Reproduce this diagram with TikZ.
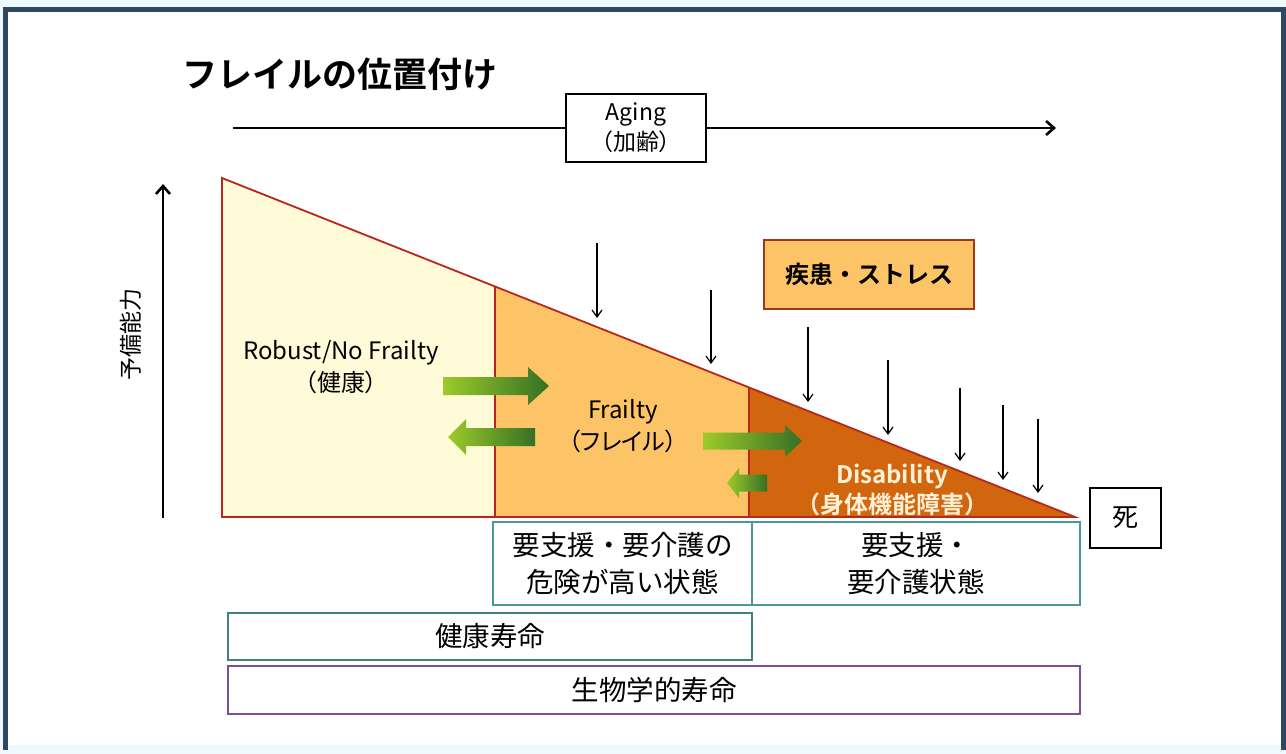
\documentclass[tikz,border=0pt]{standalone}
\usepackage{fontspec}
\setmainfont{Noto Sans CJK JP}[BoldFont={Noto Sans CJK JP Bold}]
\newfontfamily\propfont{Noto Sans CJK JP}[RawFeature=+palt, BoldFont={Noto Sans CJK JP Bold}]
\usetikzlibrary{arrows.meta}
\definecolor{bgcyan}{HTML}{EEF9FC}
\definecolor{framecol}{HTML}{2E4763}
\definecolor{robustfill}{HTML}{FFFBD8}
\definecolor{frailfill}{HTML}{FDC467}
\definecolor{disabfill}{HTML}{D2660F}
\definecolor{redline}{HTML}{B8261C}
\definecolor{brownline}{HTML}{9B3A1A}
\definecolor{tealline}{HTML}{4A9797}
\definecolor{purpline}{HTML}{7E4E94}
\definecolor{glight}{HTML}{9CCB2A}
\definecolor{gdark}{HTML}{356F25}
\definecolor{creamtext}{HTML}{FFF1D6}
\newcommand{\fsz}[2]{\fontsize{#1}{#2}\selectfont}
\newcommand{\greenarrow}[6]{%
  \shade[left color=glight, right color=gdark]
    (#1,{#4-#5}) -- (#2,{#4-#5}) -- (#2,{#4-#6}) -- (#3,#4) -- (#2,{#4+#6}) -- (#2,{#4+#5}) -- (#1,{#4+#5}) -- cycle;}
\tikzset{
  plainbox/.style={draw, line width=2pt, inner sep=0pt, outer sep=0pt, align=center},
  thinarrow/.style={line width=1.2pt, -{Straight Barb[length=7pt, width=10pt]}},
  thickline/.style={line width=2.6pt},
  rededge/.style={draw=redline, line width=1.8pt, line join=miter},
}
\begin{document}
\begin{tikzpicture}[x=1pt,y=-1pt]
\useasboundingbox (0,0) rectangle (1286,754);
\fill[bgcyan] (0,0) rectangle (1286,754);
\fill[white] (5,10) rectangle (1283,745);
\draw[framecol, line width=5pt] (5,750) -- (5,10) -- (1283,10) -- (1283,750);

% title
\node[anchor=west, font=\bfseries\fsz{35}{40}, inner sep=0pt] (title) at (182,74) {フレイルの位置付け};

% aging
\node[plainbox, minimum width=140pt, minimum height=68pt, font=\propfont\fsz{23}{30}] (aging) at (636,128) {Aging\\（加齢）};
\coordinate (agL) at (233,128);
\coordinate (agR) at (1056,128);
\draw[thickline] (agL) -- (aging.west);
\draw[thickline, -{Straight Barb[length=8pt, width=14pt]}] (aging.east) -- (agR);

% vertical axis
\coordinate (vB) at (163,518);
\coordinate (vT) at (163,184);
\draw[thickline, -{Straight Barb[length=8pt, width=14pt]}] (vB) -- (vT);
\node[rotate=90, font=\fsz{23}{26}] (yax) at (131,334) {予備能力};

% triangle
\coordinate (tA) at (222,178);
\coordinate (tB) at (495,286.5);
\coordinate (tC) at (749,387.4);
\coordinate (tD) at (1075,517);
\coordinate (bA) at (222,517);
\coordinate (bB) at (495,517);
\coordinate (bC) at (749,517);
\fill[robustfill] (tA) -- (tB) -- (bB) -- (bA) -- cycle;
\fill[frailfill] (tB) -- (tC) -- (bC) -- (bB) -- cycle;
\fill[disabfill] (tC) -- (tD) -- (bC) -- cycle;
\draw[rededge] (tA) -- (tD) -- (bA) -- cycle;
\draw[rededge] (tB) -- (bB);
\draw[rededge] (tC) -- (bC);

% region labels
\node[align=center, font=\propfont\fsz{24}{32}] (robust) at (341,367) {Robust/No Frailty\\（健康）};
\node[align=center, font=\propfont\fsz{24}{32}] (frailty) at (623,426) {Frailty\\（フレイル）};
\node[align=center, font=\bfseries\fsz{24}{30}, text=creamtext] (disab) at (892,490) {Disability\\（身体機能障害）};

% green arrows
\greenarrow{443}{528}{549}{386}{9}{19}
\greenarrow{535}{466}{448}{437}{9}{18}
\greenarrow{703}{785}{802}{441}{8.5}{16}
\greenarrow{767}{739}{727}{483}{8.5}{15}

% stress box and arrows
\node[plainbox, draw=brownline, fill=frailfill, minimum width=210pt, minimum height=69pt, font=\bfseries\fsz{24}{28}] (stress) at (869,274.5) {疾患・ストレス};
\foreach \i/\x/\ya/\yb in {1/597/243/318, 2/711/290/364, 3/808/327/402, 4/888/360/435, 5/960/388/461, 6/1003/405/480, 7/1038/419/493}{
  \coordinate (s\i) at (\x,\ya);
  \coordinate (e\i) at (\x,\yb);
  \draw[thinarrow] (s\i) -- (e\i);
}

% bottom boxes
\node[plainbox, draw=tealline, line width=1.6pt, minimum width=259pt, minimum height=83pt, font=\fsz{27.5}{37}] (risk) at (622.5,563.5) {要支援・要介護の\\危険が高い状態};
\node[plainbox, draw=tealline, line width=1.6pt, minimum width=328pt, minimum height=83pt, font=\fsz{27.5}{37}] (care) at (916,563.5) {要支援・\\要介護状態};
\node[plainbox, minimum width=71pt, minimum height=60pt, font=\fsz{26}{30}] (death) at (1125,517.5) {死};
\node[plainbox, draw=tealline!85!black, line width=2pt, minimum width=524pt, minimum height=47pt, font=\fsz{27.5}{32}] (healthy) at (490,636.5) {健康寿命};
\node[plainbox, draw=purpline, line width=2pt, minimum width=852pt, minimum height=48pt, font=\fsz{27.5}{32}] (bio) at (654,690) {生物学的寿命};
\end{tikzpicture}
\end{document}
